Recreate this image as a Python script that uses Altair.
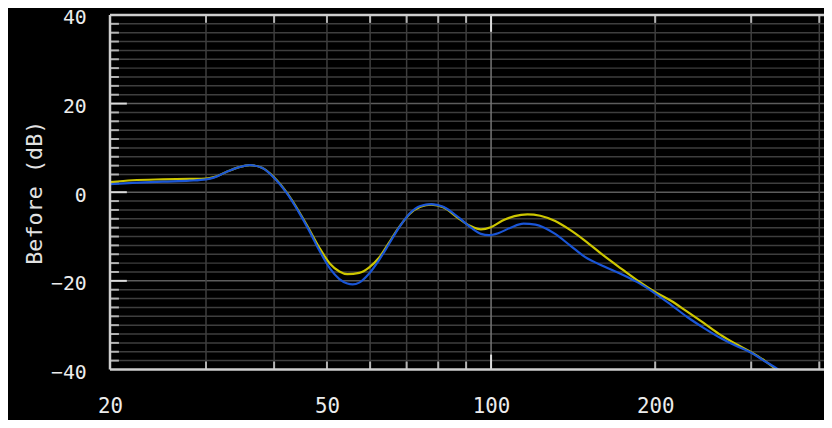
import altair as alt
import pandas as pd

# ---- data ----
FREQ_YELLOW = [20, 22, 25, 28, 30, 31.0, 32.6, 34.4, 36.1, 38.0, 40.1, 42.2, 44.2, 46.3, 48.4,
               50.7, 52.7, 54.5, 57.3, 59.7, 62.3, 64.9, 67.7, 70.9, 74.2, 77.7, 81.7, 87.4,
               91.9, 95.8, 99.9, 105.0, 110.4, 116.6, 123.1, 131.1, 139.6, 148.6, 161.6, 173.5,
               185.5, 199.2, 213.8, 228.6, 245.4, 263.6, 280.7, 298.9, 318.3, 336.0, 357.8]
DB_YELLOW = [2.3, 2.7, 2.9, 3.0, 3.1, 3.4, 4.5, 5.6, 6.1, 5.5, 3.2, -0.1, -3.9, -8.2, -12.5,
             -16.2, -17.9, -18.5, -18.2, -17.0, -14.8, -11.5, -8.0, -4.9, -3.3, -2.8, -3.4, -6.0,
             -7.7, -8.4, -7.9, -6.4, -5.4, -5.0, -5.3, -6.5, -8.5, -10.9, -14.5, -17.3,
             -19.9, -22.4, -24.5, -26.9, -29.5, -32.2, -34.2, -36.0, -38.1, -40.3, -43.0]

FREQ_BLUE = [20, 22, 25, 28, 30, 31.0, 32.6, 34.4, 36.1, 38.0, 40.1, 42.2, 44.2, 46.3, 48.4,
             50.7, 52.7, 54.5, 55.7, 57.3, 59.7, 62.3, 64.9, 67.7, 70.9, 74.2, 77.7, 81.7, 87.4,
             91.9, 95.8, 99.1, 103.3, 108.6, 114.7, 120.6, 131.1, 139.6, 148.6, 161.6, 173.5,
             185.5, 199.2, 213.8, 228.6, 245.4, 263.6, 280.7, 298.9, 318.3, 336.0, 357.8]
DB_BLUE = [1.8, 2.1, 2.4, 2.6, 2.9, 3.3, 4.5, 5.6, 6.1, 5.5, 3.1, -0.2, -4.1, -8.5, -13.1,
           -17.3, -19.6, -20.6, -20.8, -20.4, -18.4, -15.3, -11.8, -8.1, -4.8, -3.1, -2.7, -3.3,
           -5.8, -8.0, -9.4, -9.7, -9.2, -8.0, -7.1, -7.3, -9.4, -12.0, -14.6, -16.8, -18.5,
           -20.3, -22.7, -25.4, -28.1, -30.6, -32.9, -34.6, -36.1, -38.2, -40.0, -43.0]

X_GRID_MINOR = [30, 40, 50, 60, 70, 80, 90, 200, 300, 400]
X_GRID_MAJOR = [100]
X_LABELS = [20, 50, 100, 200]
Y_GRID_MINOR = [v for v in range(-38, 39, 2) if v % 20 != 0]
Y_GRID_MAJOR = [-20, 0, 20]
Y_LABELS = [-40, -20, 0, 20, 40]
Y_TITLE = "Before (dB)"

# ---- layout / style ----
W, H = 721, 358
F_DOMAIN = [20, 408]
DB_DOMAIN = [-40, 40]
FONT = "DejaVu Sans Mono"
YELLOW = "#cdc600"
BLUE = "#1a55d6"
GRID = "#3e3e3e"
GRID_MAJOR_H = "#5c5c5c"
GRID_MAJOR_V = "#767676"
FRAME = "#cfcfcf"
TICK = "#b4b4b4"
TICK_MAJOR = "#dcdcdc"

xs = alt.Scale(type="log", domain=F_DOMAIN, nice=False)
ys = alt.Scale(domain=DB_DOMAIN, nice=False)

X_AX = alt.Axis(values=X_LABELS, title=None, grid=False, ticks=False, tickSize=0, domain=False,
                labelFlush=False, labelOverlap=False, format="d", labelPadding=26,
                labelFontSize=21)
Y_AX = alt.Axis(values=Y_LABELS, title=Y_TITLE, grid=False, ticks=False, tickSize=0, domain=False,
                labelFlush=False, labelOverlap=False, labelPadding=24, labelOffset=3,
                labelFontSize=20,
                titleAngle=270, titleX=-69, titleY=179, titleAlign="center",
                titleBaseline="alphabetic")


def X(field):
    return alt.X(field, scale=xs, axis=X_AX, title=None)


def Y(field):
    return alt.Y(field, scale=ys, axis=Y_AX, title=Y_TITLE)


def vrules(vals, color, width=1.5):
    return alt.Chart(pd.DataFrame({"f": vals})).mark_rule(color=color, strokeWidth=width).encode(
        x=X("f:Q"), y=alt.value(0), y2=alt.value(H))


def hrules(vals, color, width=1.5):
    return alt.Chart(pd.DataFrame({"db": vals})).mark_rule(color=color, strokeWidth=width).encode(
        y=Y("db:Q"), x=alt.value(0), x2=alt.value(W))


def yticks(vals, length, color):
    return alt.Chart(pd.DataFrame({"db": vals})).mark_rule(color=color, strokeWidth=2).encode(
        y=Y("db:Q"), x=alt.value(0), x2=alt.value(length))


def xticks(vals, y0, y1, color):
    return alt.Chart(pd.DataFrame({"f": vals})).mark_rule(color=color, strokeWidth=2).encode(
        x=X("f:Q"), y=alt.value(y0), y2=alt.value(y1))


one = pd.DataFrame({"a": [0]})
frame_top = alt.Chart(one).mark_rule(color=FRAME, strokeWidth=2.5).encode(
    y=alt.value(0), x=alt.value(0), x2=alt.value(W))
frame_bottom = alt.Chart(one).mark_rule(color=FRAME, strokeWidth=2.5).encode(
    y=alt.value(H), x=alt.value(0), x2=alt.value(W))
frame_left = alt.Chart(one).mark_rule(color=FRAME, strokeWidth=2.5).encode(
    x=alt.value(0), y=alt.value(0), y2=alt.value(H))

df_y = pd.DataFrame({"f": FREQ_YELLOW, "db": DB_YELLOW})
df_b = pd.DataFrame({"f": FREQ_BLUE, "db": DB_BLUE})

line_y = alt.Chart(df_y).mark_line(color=YELLOW, strokeWidth=2.2, interpolate="monotone",
                                   clip=True).encode(x=X("f:Q"), y=Y("db:Q"))
line_b = alt.Chart(df_b).mark_line(color=BLUE, strokeWidth=2.2, interpolate="monotone",
                                   clip=True).encode(x=X("f:Q"), y=Y("db:Q"))

chart = alt.layer(
    hrules(Y_GRID_MINOR, GRID),
    hrules(Y_GRID_MAJOR, GRID_MAJOR_H),
    vrules(X_GRID_MINOR, GRID),
    vrules(X_GRID_MAJOR, GRID_MAJOR_V),
    yticks(Y_GRID_MINOR, 9, TICK),
    yticks(Y_GRID_MAJOR, 17, TICK_MAJOR),
    xticks(X_GRID_MINOR, H, H - 8, TICK),
    xticks(X_GRID_MAJOR, H, H - 15, TICK_MAJOR),
    xticks(X_GRID_MINOR, 0, 8, TICK),
    xticks(X_GRID_MAJOR, 0, 17, TICK_MAJOR),
    line_y,
    line_b,
    frame_top,
    frame_bottom,
    frame_left,
).properties(
    width=W, height=H, background="#000000",
    padding={"left": 103, "top": 5, "right": 0, "bottom": 49},
    autosize=alt.AutoSizeParams(type="none"),
).configure_view(stroke=None).configure_axis(
    labelFont=FONT, labelColor="#ececec",
    titleFont=FONT, titleFontSize=22, titleFontWeight="normal", titleColor="#e2e2e2",
)

chart.save("out.html", embed_options={"renderer": "svg", "actions": False})
